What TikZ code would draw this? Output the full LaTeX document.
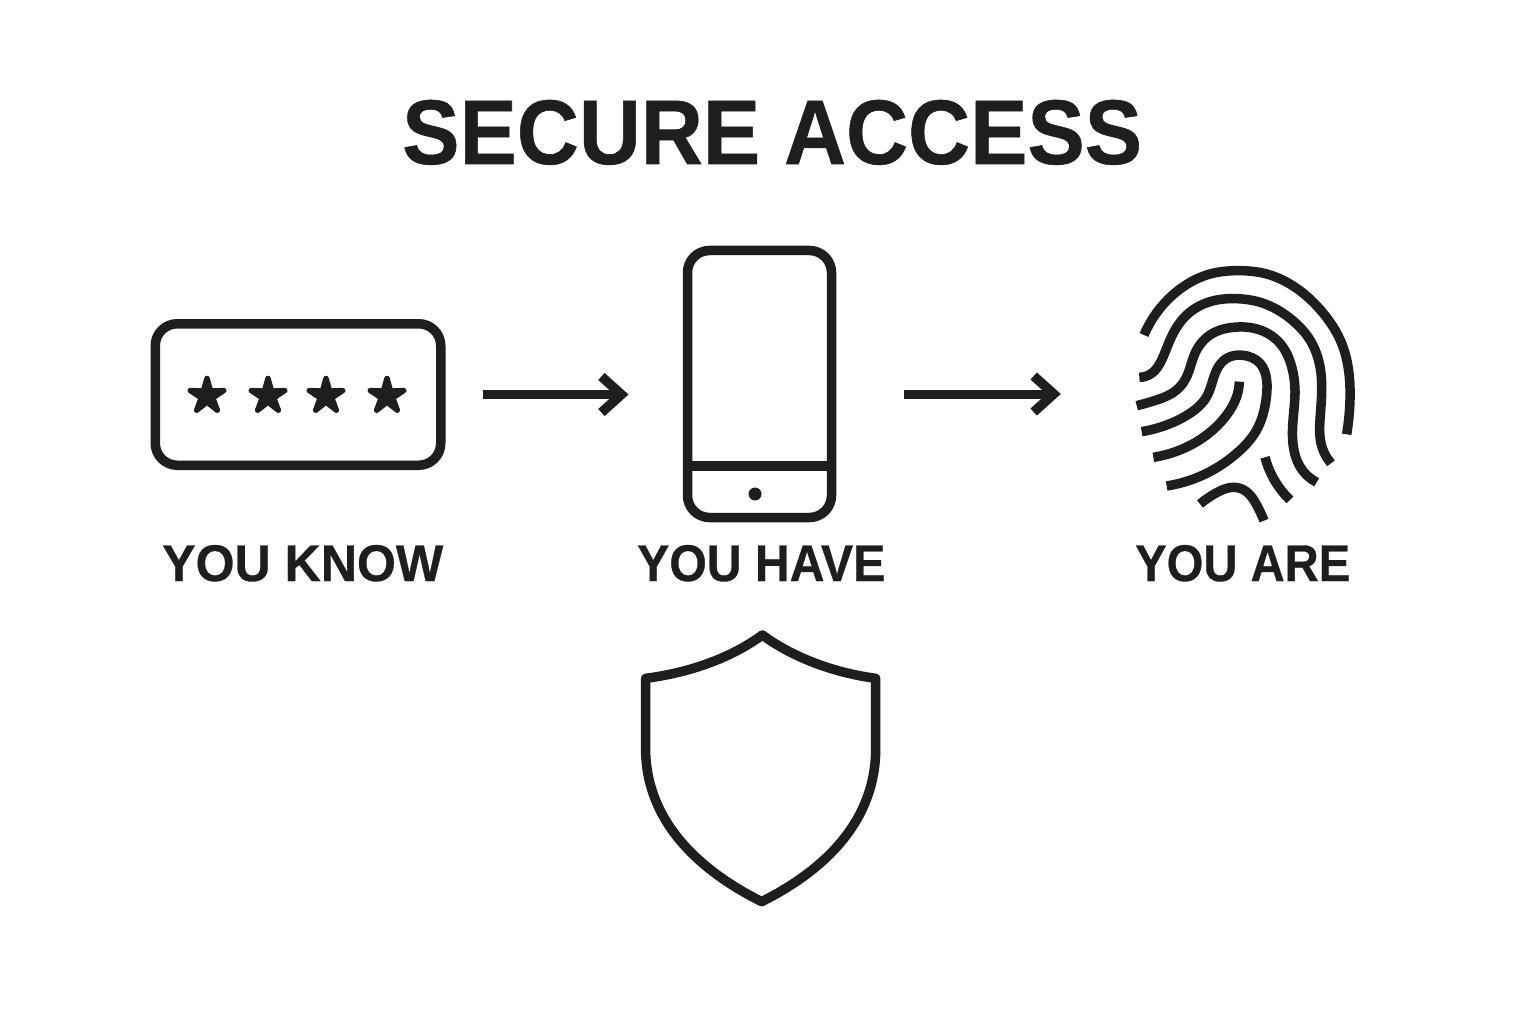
\documentclass[tikz,border=0pt]{standalone}
\usepackage{fontspec}
\setmainfont{Liberation Sans}
\newfontfamily\headfont[FakeBold=0.6]{Liberation Sans Bold}
\usetikzlibrary{arrows.meta,shapes.geometric,hobby}
\definecolor{ink}{HTML}{1E1E1E}
\tikzset{
  icon/.style={draw=ink,line width=9.5pt,line join=round},
  screen/.style={icon,rectangle,rounded corners=22pt,inner sep=0pt,outer sep=0pt},
  pwstar/.style={star,star points=5,star point ratio=2.9,minimum size=35pt,inner sep=0pt,fill=ink,draw=ink,line width=5.5pt,line join=round},
  flow/.style={draw=ink,line width=9pt,-{Straight Barb[length=20pt,width=36pt,line width=9.5pt,sharp]}},
  ridge/.style={draw=ink,line width=9.5pt,line join=round,line cap=butt,use Hobby shortcut},
  caption/.style={inner sep=0pt,anchor=base west,text=ink,font=\headfont}
}
\begin{document}
\begin{tikzpicture}[x=1pt,y=-1pt]
\useasboundingbox[fill=white] (0,0) rectangle (1536,1024);
% title and captions
\node[caption] (title) at (402,164) {\resizebox{740pt}{64pt}{SECURE ACCESS}};
\node[caption] (know) at (162,581) {\resizebox{281pt}{36pt}{YOU KNOW}};
\node[caption] (have) at (637,581) {\resizebox{248pt}{36pt}{YOU HAVE}};
\node[caption] (are) at (1135,581) {\resizebox{215pt}{36pt}{YOU ARE}};
% password box
\node[screen,minimum width=285.5pt,minimum height=141.5pt] (password) at (298,394.5) {};
\node[pwstar] (s1) at (207,396) {};
\node[pwstar] (s2) at (268,396) {};
\node[pwstar] (s3) at (326,396) {};
\node[pwstar] (s4) at (387,396) {};
% phone
\node[screen,minimum width=144pt,minimum height=267pt] (phone) at (759.5,384) {};
\coordinate (barL) at (687.5,466);
\coordinate (barR) at (831.5,466);
\draw[icon,line cap=butt] (barL) -- (barR);
\node[circle,fill=ink,inner sep=0pt,minimum size=13pt] (dot) at (755,494) {};
% fingerprint
\node[inner sep=0pt,minimum width=220pt,minimum height=270pt] (fingerprint) at (1245,394) {};
\begin{scope}[shift={(1120,250)},x=0.3333pt,y=-0.3333pt]
\draw[ridge] (72,255) .. (120,175) .. (190,110) .. (270,72) .. (350,62) .. (440,72) .. (530,115) .. (610,190) .. (665,280) .. (688,380) .. (690,450) .. (680,553);
\draw[ridge] (58,382) .. (95,370) .. (125,330) .. (150,270) .. (200,195) .. (270,155) .. (350,146) .. (430,160) .. (510,205) .. (570,270) .. (600,350) .. (605,430) .. (600,510) .. (603,580) .. (633,640);
\draw[ridge] (50,467) .. (110,450) .. (170,420) .. (200,380) .. (225,310) .. (270,255) .. (340,232) .. (420,240) .. (480,280) .. (515,350) .. (525,420) .. (520,500) .. (520,590) .. (540,650) .. (590,697);
\draw[ridge] (65,545) .. (140,525) .. (210,490) .. (260,440) .. (290,360) .. (320,325) .. (370,316) .. (420,340) .. (440,390) .. (438,450) .. (410,540) .. (350,610) .. (260,670) .. (140,708);
\draw[ridge] (100,622) .. (180,600) .. (260,555) .. (320,495) .. (350,440) .. (358,395);
\draw[ridge] (435,622) .. (455,675) .. (510,750);
\draw[ridge] (240,762) .. (290,728) .. (340,712) .. (375,722) .. (410,765) .. (432,812);
\end{scope}
% shield
\begin{scope}[shift={(625,620)},x=0.3333pt,y=-0.3333pt]
\draw[icon] (412,45) .. controls (310,120) and (180,160) .. (62,175) -- (62,400)
  .. controls (70,620) and (240,760) .. (410,845)
  .. controls (580,760) and (745,620) .. (752,400) -- (752,175)
  .. controls (640,160) and (515,120) .. (412,45) -- cycle;
\end{scope}
% connectors
\draw[flow,shorten <=42pt,shorten >=59pt] (password.east) -- (password.east -| phone.west);
\draw[flow,shorten <=72pt,shorten >=74pt] (phone.east |- fingerprint.west) -- (fingerprint.west);
\end{tikzpicture}
\end{document}
